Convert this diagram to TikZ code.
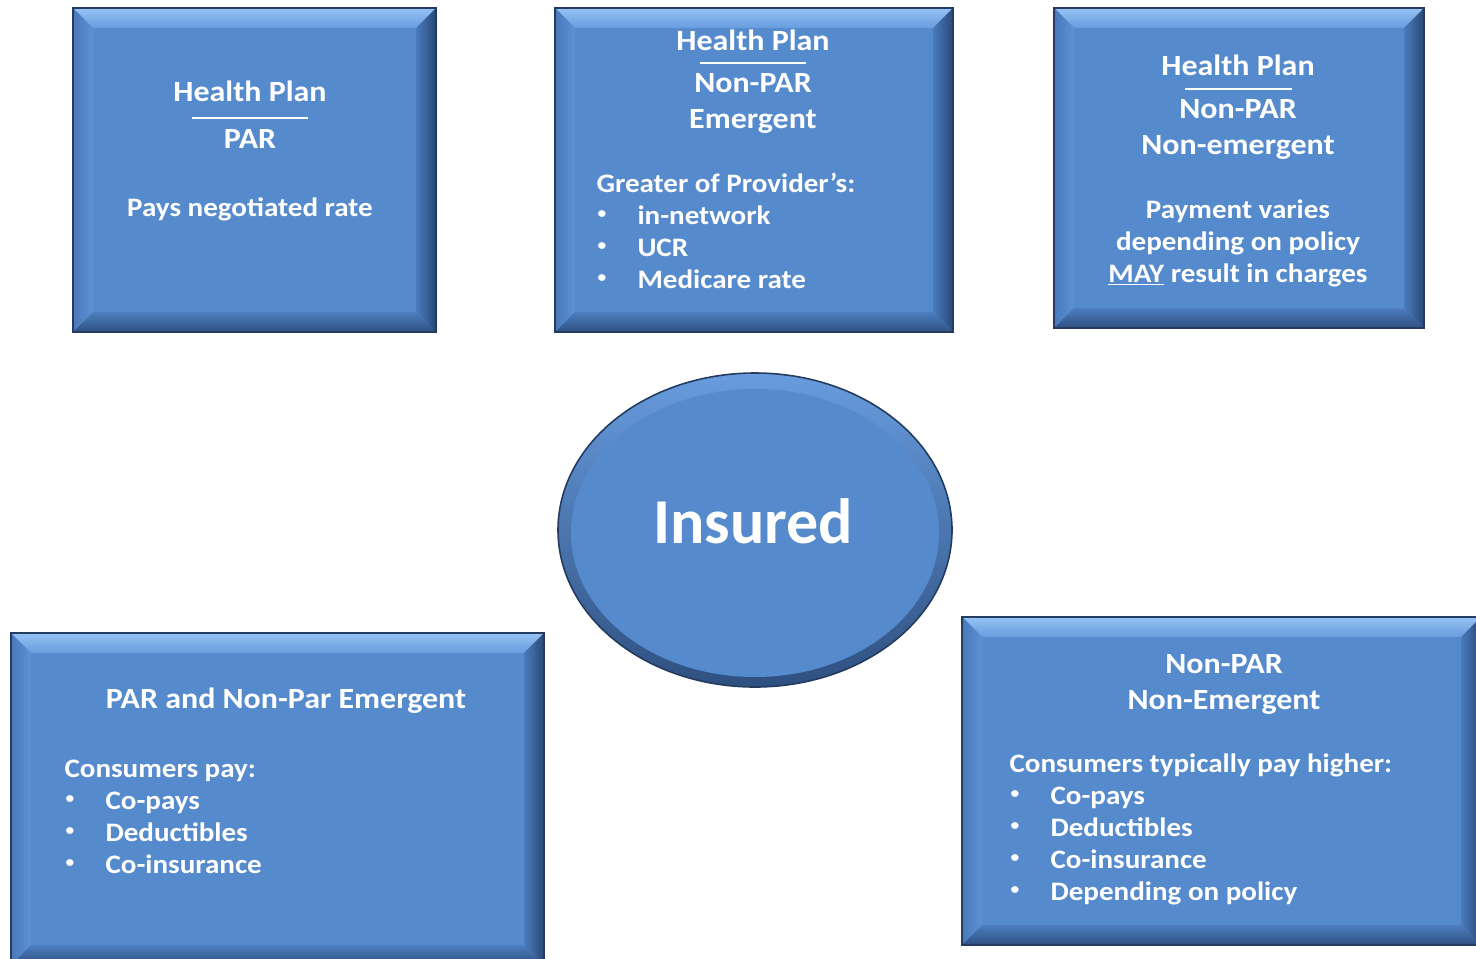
\documentclass[tikz,border=0pt]{standalone}
\usepackage{fontspec}
\setmainfont{Carlito}[FakeStretch=1.09]
\newfontfamily\bigfont{Carlito}
\usetikzlibrary{calc,shapes.geometric}

\definecolor{plfill}{RGB}{85,138,205}
\definecolor{pltopa}{RGB}{150,194,244}
\definecolor{pltopb}{RGB}{104,156,222}
\definecolor{pllefta}{RGB}{72,120,186}
\definecolor{plleftb}{RGB}{92,146,212}
\definecolor{plrighta}{RGB}{74,123,188}
\definecolor{plrightb}{RGB}{42,72,118}
\definecolor{plbota}{RGB}{76,126,192}
\definecolor{plbotb}{RGB}{46,80,128}
\definecolor{pledge}{RGB}{36,60,96}

\tikzset{every picture/.style={line width=0.75pt}}
\tikzset{
  panel/.style 2 args={draw=pledge, fill=plfill, line width=1.5pt, minimum width=#1*0.75pt, minimum height=#2*0.75pt, inner sep=0pt},
  head/.style={text=white, font=\fontsize{22}{26}\selectfont\bfseries, inner sep=0pt, anchor=base},
  body/.style={text=white, font=\fontsize{20}{24}\selectfont\bfseries, inner sep=0pt, anchor=base},
  item/.style={body, anchor=base west},
  dot/.style={text=white, font=\fontsize{12}{12}\selectfont\bfseries, inner sep=0pt},
  hrule/.style={draw=white, line width=1pt},
}

\begin{document}
\begin{tikzpicture}[x=0.75pt,y=0.75pt,yscale=-1,xscale=1]
\useasboundingbox (0,0) rectangle (1476,958);

%Panels
\node[panel={361}{322}] (par) at (254.5,170) {};
\node[panel={396}{322}] (npem) at (754,170) {};
\node[panel={368}{318}] (npnon) at (1239,168) {};
\node[panel={531}{330}] (parem) at (277.5,799) {};
\node[panel={517}{326}] (npnem) at (1221.5,781) {};

%Bevel edges of the panels
\foreach \b in {par,npem,npnon,parem,npnem}{
  \shade[top color=pltopa, bottom color=pltopb] (\b.north west) -- (\b.north east) -- ($(\b.north east)+(-20,20)$) -- ($(\b.north west)+(20,20)$) -- cycle;
  \shade[left color=pllefta, right color=plleftb] (\b.north west) -- ($(\b.north west)+(20,20)$) -- ($(\b.south west)+(20,-20)$) -- (\b.south west) -- cycle;
  \shade[left color=plrighta, right color=plrightb] (\b.north east) -- ($(\b.north east)+(-20,20)$) -- ($(\b.south east)+(-20,-20)$) -- (\b.south east) -- cycle;
  \shade[top color=plbota, bottom color=plbotb] (\b.south west) -- ($(\b.south west)+(20,-20)$) -- ($(\b.south east)+(-20,-20)$) -- (\b.south east) -- cycle;
  \draw[pledge, line width=1.5pt] (\b.north west) rectangle (\b.south east);
}

%Ellipse in the middle
\node[ellipse, draw=pledge, line width=1.2pt, top color=pltopb, bottom color=plbotb, minimum width=394*0.75pt, minimum height=314*0.75pt] (ins) at (755,530) {};
\fill[plfill] ($(ins.center)+(0,3)$) ellipse [x radius=184, y radius=144];

% Text Node
\node[head] (hp1) at (250,101) {Health Plan};
\draw[hrule] (192,118) -- (308,118);
% Text Node
\node[head] (par1) at (250,148) {PAR};
% Text Node
\node[body] (pay1) at (250,216) {Pays negotiated rate};

% Text Node
\node[head] (hp2) at (753,50) {Health Plan};
\draw[hrule] (700,63) -- (806,63);
% Text Node
\node[head] (np2) at (753,92) {Non-PAR};
% Text Node
\node[head] (em2) at (753,128) {Emergent};
% Text Node
\node[item] (gr2) at (596,192) {Greater of Provider’s:};
\foreach \t [count=\i] in {in-network,UCR,Medicare rate}{
  \node[dot] at (602,183+32*\i) {\textbullet};
  \node[item] at (637,192+32*\i) {\t};
}

% Text Node
\node[head] (hp3) at (1238,75) {Health Plan};
\draw[hrule] (1185,89) -- (1292,89);
% Text Node
\node[head] (np3) at (1238,118) {Non-PAR};
% Text Node
\node[head] (ne3) at (1238,154) {Non-emergent};
% Text Node
\node[body] (pv3) at (1238,218) {Payment varies};
% Text Node
\node[body] (dp3) at (1238,250) {depending on policy};
% Text Node
\node[body] (my3) at (1238,282) {\underline{MAY} result in charges};

% Text Node
\node[text=white, font=\bigfont\fontsize{48}{50}\selectfont\bfseries, inner sep=0pt, anchor=base] (insured) at (753,543) {Insured};

% Text Node
\node[head] (pe4) at (286,708) {PAR and Non-Par Emergent};
% Text Node
\node[item] (cp4) at (64,777) {Consumers pay:};
\foreach \t [count=\i] in {Co-pays,Deductibles,Co-insurance}{
  \node[dot] at (70,768+32*\i) {\textbullet};
  \node[item] at (105,777+32*\i) {\t};
}

% Text Node
\node[head] (np5) at (1224,673) {Non-PAR};
% Text Node
\node[head] (ne5) at (1224,709) {Non-Emergent};
% Text Node
\node[item] (ct5) at (1009,772) {Consumers typically pay higher:};
\foreach \t [count=\i] in {Co-pays,Deductibles,Co-insurance,Depending on policy}{
  \node[dot] at (1015,763+32*\i) {\textbullet};
  \node[item] at (1050,772+32*\i) {\t};
}

\end{tikzpicture}
\end{document}
